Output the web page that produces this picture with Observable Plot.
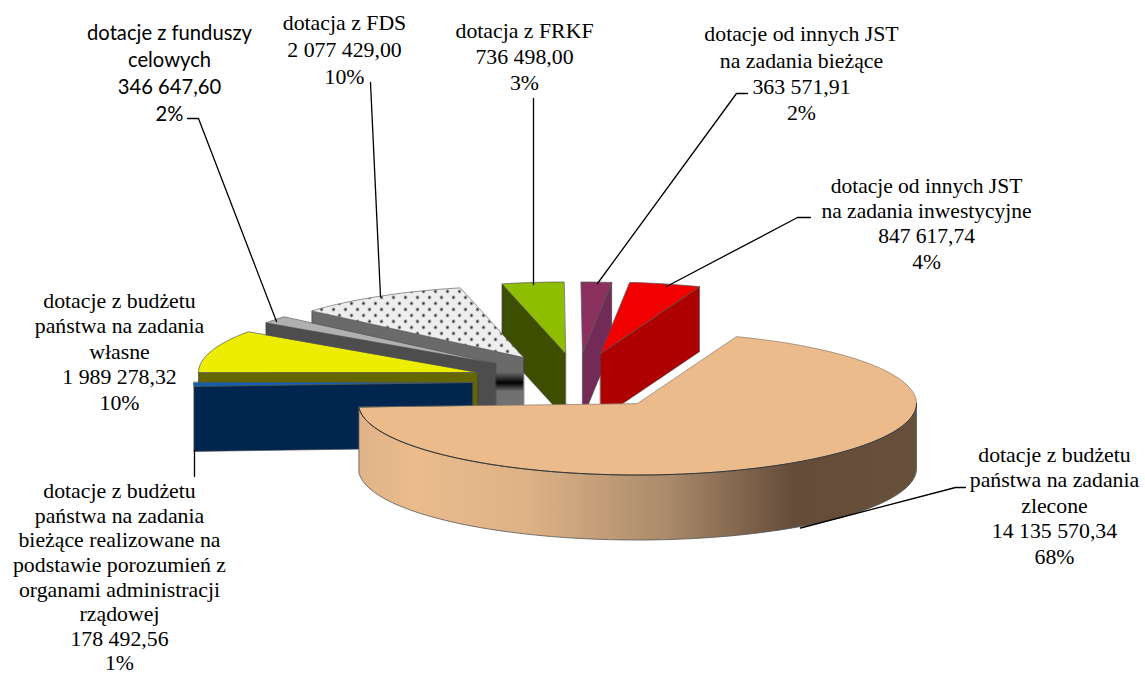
<!DOCTYPE html>
<html lang="pl">
<head>
<meta charset="utf-8">
<title>Dotacje</title>
<script src="https://cdn.jsdelivr.net/npm/d3@7"></script>
<script src="https://cdn.jsdelivr.net/npm/@observablehq/plot@0.6"></script>
<style>
  html, body { margin: 0; padding: 0; background: #fff; }
  svg { display: block; }
</style>
</head>
<body>
<div id="chart"></div>
<script>
// Data, in pie order (clockwise from the first slice)
const categories = [
  ["dotacje z budżetu", "państwa na zadania", "zlecone"],
  ["dotacje z budżetu", "państwa na zadania", "bieżące realizowane na", "podstawie porozumień z", "organami administracji", "rządowej"],
  ["dotacje z budżetu", "państwa na zadania", "własne"],
  ["dotacje z funduszy", "celowych"],
  ["dotacja z FDS"],
  ["dotacja z FRKF"],
  ["dotacje od innych JST", "na zadania bieżące"],
  ["dotacje od innych JST", "na zadania inwestycyjne"]
];
const values = [14135570.34, 178492.56, 1989278.32, 346647.60, 2077429.00, 736498.00, 363571.91, 847617.74];
const percents = ["68%", "1%", "10%", "2%", "10%", "3%", "2%", "4%"];

// Look of each slice
const topFill = ["#ebbb8c", "#0f5fb5", "#eded00", "#b0b0b0", "url(#dots)", "#8fbd00", "#8c305f", "#f00000"];
const wallFill = ["url(#wallMain)", "#00264f", "#666600", "#4d4d4d", "url(#wallDots)", "#3d4e00", "#722b56", "#ae0000"];
// Pull-out of each slice from the pie centre, in pixels
const pullX = [0, -165, -160, -142, -114, -72, -55, -37];
const pullY = [0, -21, -31, -40, -46, -50, -50, -50];
// Which cut edge of each slice shows its wall: 0 = first edge, 1 = last edge, null = the rim
const wallEdge = [null, 0, 0, 0, 0, 0, 1, 1];
const labelX = [1054, 119, 119, 169, 344, 524, 801, 926];
const labelY = [504, 576, 350, 71, 48, 55, 72, 222];
const labelFont = ["Liberation Serif", "Liberation Serif", "Liberation Serif", "Lato", "Liberation Serif", "Liberation Serif", "Liberation Serif", "Liberation Serif"];
const labelSize = [21.8, 21.8, 21.8, 20.2, 21.8, 21.8, 21.8, 21.5];
const labelLeading = [25.5, 24.6, 25.5, 27, 27, 26, 26.3, 25.3];
const leaders = [
  [[965, 487], [955, 487], [800, 527.5]],
  [[194, 450], [194, 476]],
  [[187, 118], [198, 118], [276, 321]],
  [[370, 82], [380, 296]],
  [[533, 98], [533, 284]],
  [[747, 93], [736, 93], [597, 283]],
  [[810, 217], [797, 217], [666, 286]]
];

// Pie geometry
const cx = 637, cy = 403, rx = 279, ry = 71.5, depth = 65;
const total = d3.sum(values);
// Slices run clockwise; the third slice's first edge points due west.
let acc = 270 - values[0] / total * 360 - values[1] / total * 360;
const slices = values.map((v, i) => {
  const a0 = acc, a1 = acc + v / total * 360;
  acc = a1;
  return {i, a0, a1, ax: cx + pullX[i], ay: cy + pullY[i]};
});
const rad = (d) => d * Math.PI / 180;
const rim = (s, a) => ({x: s.ax + rx * Math.sin(rad(a)), y: s.ay - ry * Math.cos(rad(a))});
const arc = (s, a0, a1) => {
  const n = Math.max(2, Math.ceil(Math.abs(a1 - a0) / 1.5));
  return d3.range(n + 1).map((k) => rim(s, a0 + (a1 - a0) * k / n));
};
const down = (p) => ({x: p.x, y: p.y + depth});

const poly = (pts, fill, stroke = "#555", strokeWidth = 0.8) =>
  Plot.line(pts, {x: "x", y: "y", fill, stroke, strokeWidth, curve: "linear-closed", strokeLinejoin: "round"});

// Draw back to front: outer slices first, the large slice last
const drawOrder = [6, 5, 7, 4, 3, 2, 1];
const sliceMarks = drawOrder.flatMap((i) => {
  const s = slices[i];
  const apex = {x: s.ax, y: s.ay};
  const outer = rim(s, wallEdge[i] === 0 ? s.a0 : s.a1);
  const wall = [apex, outer, down(outer), down(apex)];
  return [
    poly(wall, wallFill[i], "#444", 0.7),
    poly([apex, ...arc(s, s.a0, s.a1)], topFill[i], i === 4 ? "#666" : "#555", 0.7)
  ];
});

// Large slice: rim wall from due east round the front to its last edge
const main = slices[0];
const endA = main.a1;
const frontRim = arc(main, 90, endA);
const wallMain = [...frontRim, ...frontRim.map(down).reverse()];
const mainMarks = [
  poly(wallMain, wallFill[0], "#555", 0.8),
  poly([{x: main.ax, y: main.ay}, ...arc(main, main.a0, main.a1)], topFill[0], "#8a7a68", 0.7),
  Plot.line(arc(main, 90, endA), {x: "x", y: "y", stroke: "#333", strokeWidth: 1})
];

const leaderMarks = leaders.map((pts) =>
  Plot.line(pts, {x: (d) => d[0], y: (d) => d[1], stroke: "#000", strokeWidth: 1.3, curve: "linear"}));

const money = (v) => {
  const [a, b] = v.toFixed(2).split(".");
  return a.replace(/\B(?=(\d{3})+(?!\d))/g, " ") + "," + b;
};
const labelMarks = values.map((v, i) => Plot.text(
  [[...categories[i], money(v), percents[i]].join("\n")],
  {
    x: () => labelX[i], y: () => labelY[i], text: (d) => d,
    textAnchor: "middle", lineAnchor: "middle",
    fontFamily: labelFont[i], fontSize: labelSize[i],
    lineHeight: labelLeading[i] / labelSize[i], fill: "#000"
  }
));

const defs = () => {
  const g = d3.create("svg:g");
  g.html(`<defs>
    <linearGradient id="wallMain" x1="0" x2="1" y1="0" y2="0">
      <stop offset="0" stop-color="#dfb389"/><stop offset="0.1" stop-color="#ebbb8c"/>
      <stop offset="0.3" stop-color="#deb287"/><stop offset="0.55" stop-color="#ab8b6b"/>
      <stop offset="0.78" stop-color="#644c39"/><stop offset="1" stop-color="#67503b"/>
    </linearGradient>
    <linearGradient id="wallDots" x1="0" x2="0" y1="0" y2="1">
      <stop offset="0" stop-color="#6a6a6a"/><stop offset="0.55" stop-color="#6a6a6a"/>
      <stop offset="0.645" stop-color="#000"/><stop offset="0.72" stop-color="#6f6f6f"/>
      <stop offset="1" stop-color="#777"/>
    </linearGradient>
    <pattern id="dots" patternUnits="userSpaceOnUse" width="12" height="12">
      <rect width="12" height="12" fill="#eeeeee"/>
      <circle cx="3" cy="3" r="1.4" fill="#2c2c2c"/><circle cx="9" cy="9" r="1.4" fill="#2c2c2c"/>
    </pattern></defs>`);
  return g.node();
};

const chart = Plot.plot({
  width: 1145, height: 675,
  marginTop: 0, marginRight: 0, marginBottom: 0, marginLeft: 0,
  x: {domain: [0, 1145], range: [0, 1145], axis: null},
  y: {domain: [0, 675], range: [0, 675], axis: null},
  style: {background: "#fff", overflow: "visible"},
  marks: [defs, ...sliceMarks, ...mainMarks, ...leaderMarks, ...labelMarks]
});
document.getElementById("chart").append(chart);
</script>
</body>
</html>
